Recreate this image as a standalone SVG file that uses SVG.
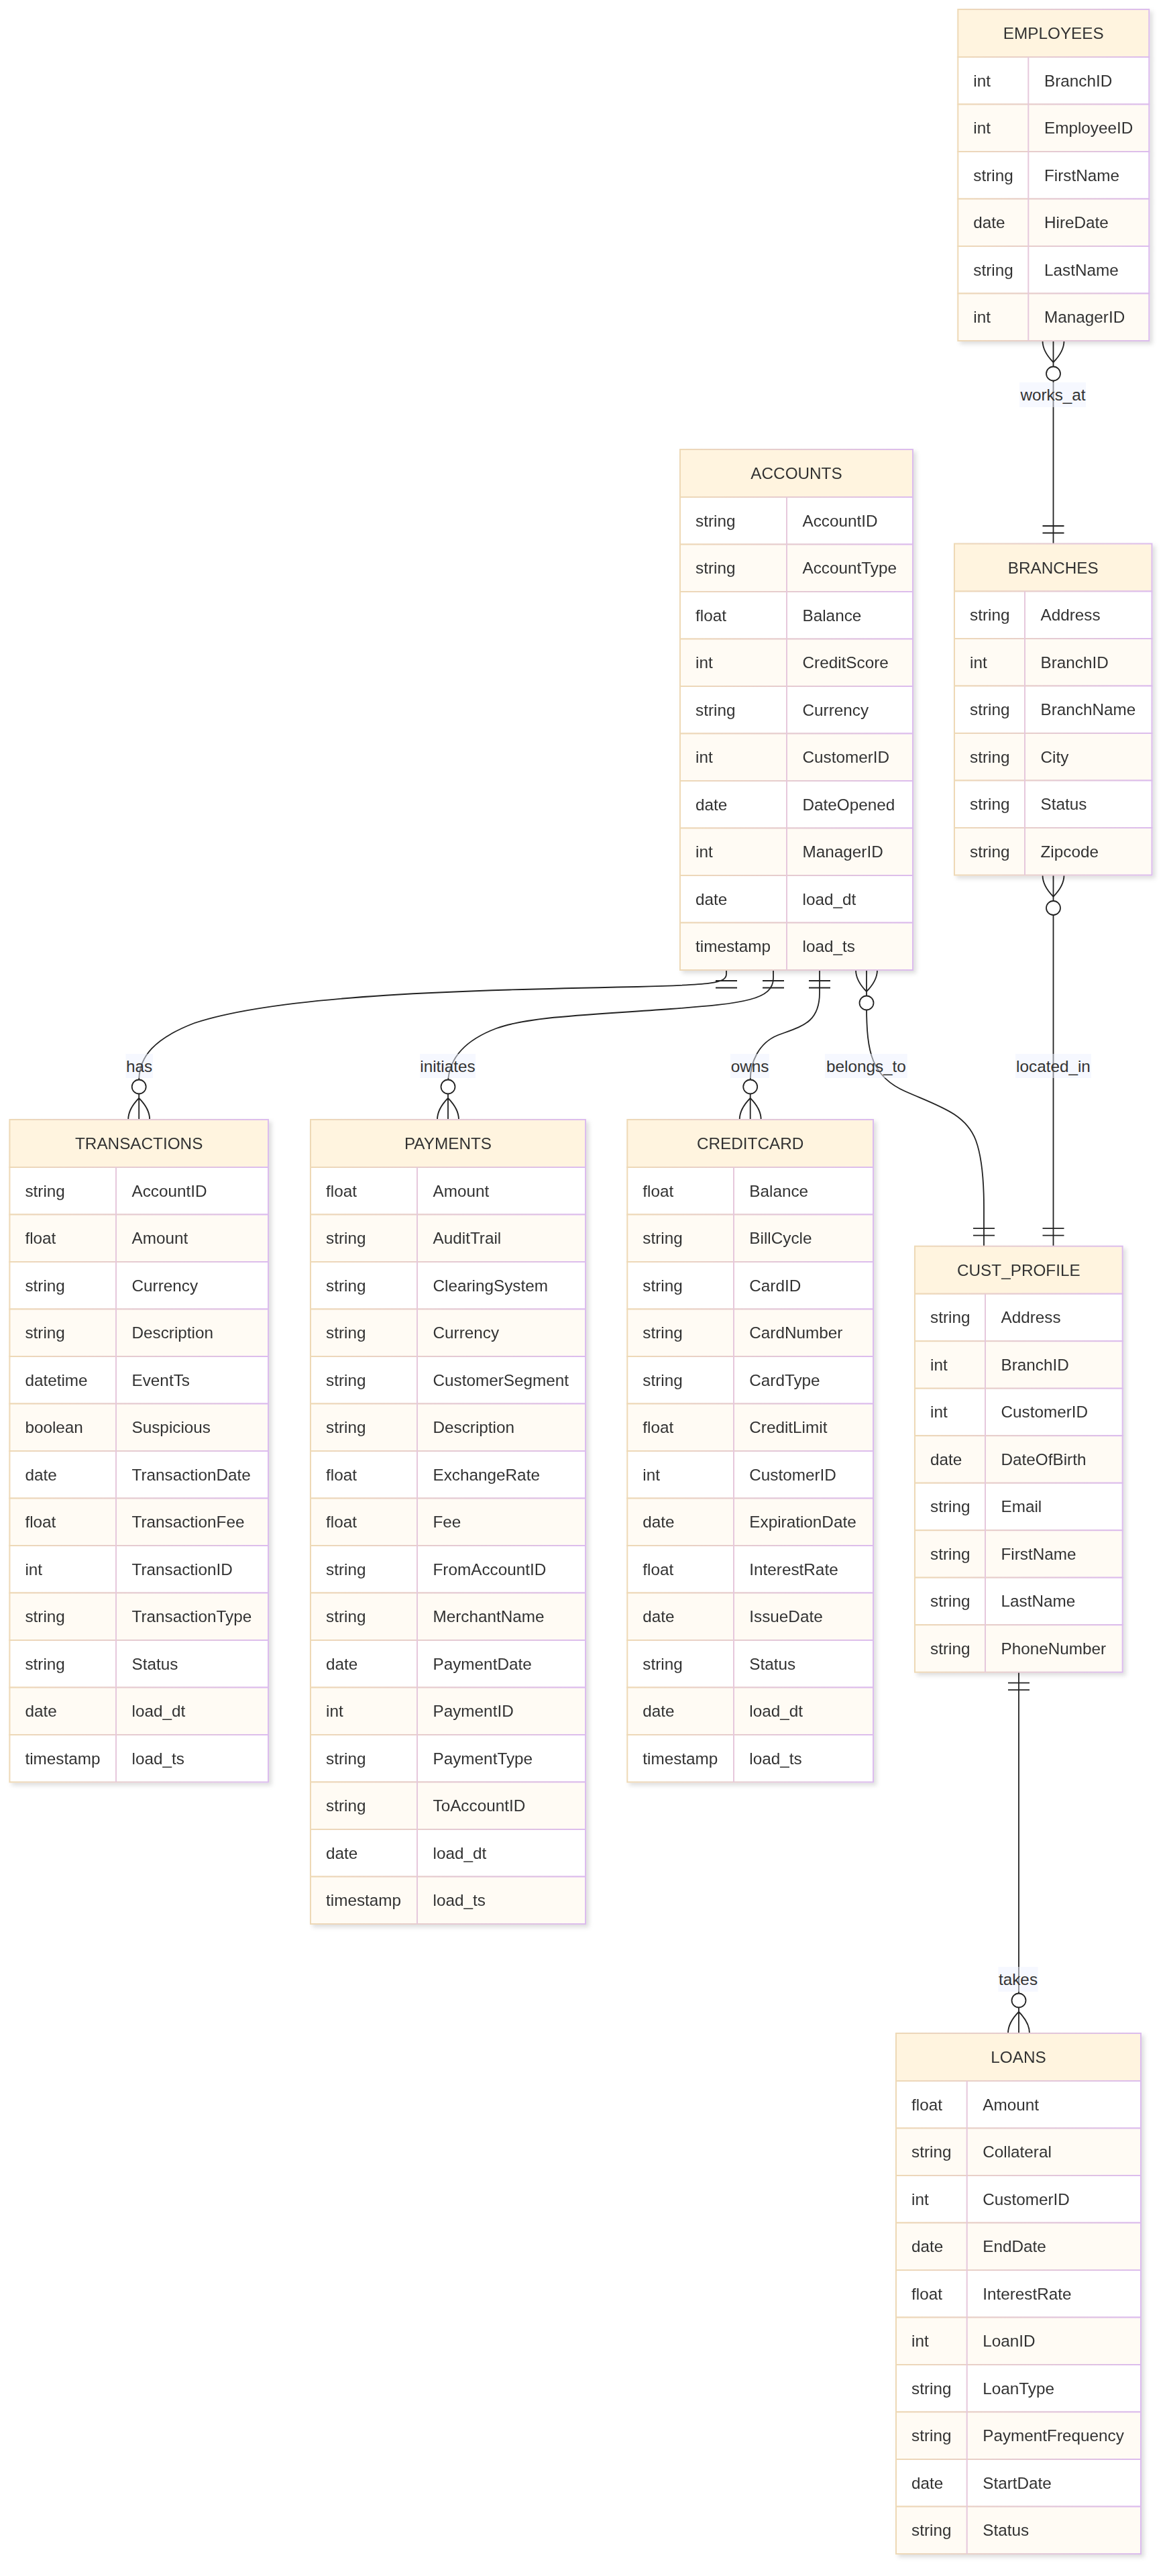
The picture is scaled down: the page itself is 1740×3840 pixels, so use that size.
<svg xmlns="http://www.w3.org/2000/svg" xmlns:xlink="http://www.w3.org/1999/xlink" width="1740" height="3840" viewBox="0 0 1740 3840">
<style>
.hdr{fill:#fff4df;stroke:url(#bd);stroke-width:2}
.r1{fill:#ffffff;stroke:url(#bd);stroke-width:2}
.r2{fill:#fffbf4;stroke:url(#bd);stroke-width:2}
.dv{stroke:#e6c8dc;stroke-width:2}
text{font-family:"Liberation Sans",Arial,Helvetica,sans-serif;font-size:24.3px;fill:#333}
.h{text-anchor:middle}
.e{fill:none;stroke:#222;stroke-width:1.8}
.mk{fill:none;stroke:#222;stroke-width:1.8}
.mc{fill:#fff;stroke:#222;stroke-width:1.8}
.lb{fill:#eef2ff;fill-opacity:0.5}
</style>
<defs>
<linearGradient id="bd" x1="0" y1="0" x2="1" y2="0">
<stop offset="0" stop-color="#eed9b6"/>
<stop offset="1" stop-color="#dcbcee"/>
</linearGradient>
<filter id="sh" x="-5%" y="-5%" width="115%" height="115%">
<feDropShadow dx="4" dy="4" stdDeviation="3" flood-color="#000" flood-opacity="0.13"/>
</filter>
<g id="one"><path class="mk" d="M-16,16 H16 M-16,26.5 H16"/></g>
<g id="many0"><path class="mk" d="M-16,0 Q-16,16 0,32 M16,0 Q16,16 0,32"/><circle class="mc" cx="0" cy="49" r="10.5"/></g>
</defs>
<rect x="0" y="0" width="1740" height="3840" fill="#ffffff"/>

<g id="connectors">
<path class="e" d="M1570.5,508 L1570.5,810.5"/>
<path class="e" d="M1570.5,1304.5 L1570.5,1857.7"/>
<path class="e" d="M1519,2492.7 L1519,3031"/>
<path class="e" d="M1083,1446 L1083,1452 C1083,1466 1060,1468 950,1471 C700,1476 420,1482 290,1525 C230,1548 208,1575 207.2,1609 L207.2,1669"/>
<path class="e" d="M1153,1446 L1153,1458 C1153,1490 1110,1496 1000,1504 C880,1513 790,1515 740,1533 C695,1550 670,1575 668,1612 L668,1669"/>
<path class="e" d="M1222,1446 L1222,1480 C1222,1525 1195,1530 1160,1543 C1130,1555 1119,1585 1118.7,1609 L1118.7,1669"/>
<path class="e" d="M1292,1446 L1292,1500 C1292,1570 1300,1605 1350,1627 C1400,1649 1440,1660 1455,1700 C1466,1730 1467,1770 1467,1800 L1467,1857.7"/>
<use href="#many0" transform="translate(1570.5,508)"/>
<use href="#one" transform="translate(1570.5,810.5) rotate(180)"/>
<use href="#many0" transform="translate(1570.5,1304.5)"/>
<use href="#one" transform="translate(1570.5,1857.7) rotate(180)"/>
<use href="#one" transform="translate(1519,2492.7)"/>
<use href="#many0" transform="translate(1519,3031) rotate(180)"/>
<use href="#one" transform="translate(1083,1446)"/>
<use href="#many0" transform="translate(207.2,1669) rotate(180)"/>
<use href="#one" transform="translate(1153,1446)"/>
<use href="#many0" transform="translate(668,1669) rotate(180)"/>
<use href="#one" transform="translate(1222,1446)"/>
<use href="#many0" transform="translate(1118.7,1669) rotate(180)"/>
<use href="#many0" transform="translate(1292,1446)"/>
<use href="#one" transform="translate(1467,1857.7) rotate(180)"/>
<rect class="lb" x="1520" y="570" width="99" height="37"/>
<text class="h" x="1570" y="597">works_at</text>
<rect class="lb" x="1514" y="1571" width="113" height="36"/>
<text class="h" x="1570.5" y="1597.5">located_in</text>
<rect class="lb" x="1488.5" y="2932" width="59" height="37"/>
<text class="h" x="1518" y="2958.5">takes</text>
<rect class="lb" x="187.5" y="1571" width="40.5" height="36"/>
<text class="h" x="207.7" y="1597.5">has</text>
<rect class="lb" x="626" y="1571" width="83" height="36"/>
<text class="h" x="667.5" y="1597.5">initiates</text>
<rect class="lb" x="1089" y="1571" width="58" height="36"/>
<text class="h" x="1118" y="1597.5">owns</text>
<rect class="lb" x="1230" y="1571" width="122.7" height="36"/>
<text class="h" x="1291.4" y="1597.5">belongs_to</text>
</g>

<g id="employees" filter="url(#sh)">
<rect class="hdr" x="1428.3" y="14" width="285" height="71"/>
<rect class="r1" x="1428.3" y="85" width="285" height="70.5"/>
<rect class="r2" x="1428.3" y="155.5" width="285" height="70.5"/>
<rect class="r1" x="1428.3" y="226" width="285" height="70.5"/>
<rect class="r2" x="1428.3" y="296.5" width="285" height="70.5"/>
<rect class="r1" x="1428.3" y="367" width="285" height="70.5"/>
<rect class="r2" x="1428.3" y="437.5" width="285" height="70.5"/>
<line class="dv" x1="1533.3" y1="85" x2="1533.3" y2="508"/>
<text class="h" x="1570.8" y="58">EMPLOYEES</text>
<text x="1451.3" y="128.5">int</text><text x="1557" y="128.5">BranchID</text>
<text x="1451.3" y="199">int</text><text x="1557" y="199">EmployeeID</text>
<text x="1451.3" y="269.5">string</text><text x="1557" y="269.5">FirstName</text>
<text x="1451.3" y="340">date</text><text x="1557" y="340">HireDate</text>
<text x="1451.3" y="410.5">string</text><text x="1557" y="410.5">LastName</text>
<text x="1451.3" y="481">int</text><text x="1557" y="481">ManagerID</text>
</g>

<g id="accounts" filter="url(#sh)">
<rect class="hdr" x="1014" y="670" width="347" height="71"/>
<rect class="r1" x="1014" y="741" width="347" height="70.5"/>
<rect class="r2" x="1014" y="811.5" width="347" height="70.5"/>
<rect class="r1" x="1014" y="882" width="347" height="70.5"/>
<rect class="r2" x="1014" y="952.5" width="347" height="70.5"/>
<rect class="r1" x="1014" y="1023" width="347" height="70.5"/>
<rect class="r2" x="1014" y="1093.5" width="347" height="70.5"/>
<rect class="r1" x="1014" y="1164" width="347" height="70.5"/>
<rect class="r2" x="1014" y="1234.5" width="347" height="70.5"/>
<rect class="r1" x="1014" y="1305" width="347" height="70.5"/>
<rect class="r2" x="1014" y="1375.5" width="347" height="70.5"/>
<line class="dv" x1="1173" y1="741" x2="1173" y2="1446"/>
<text class="h" x="1187.5" y="714">ACCOUNTS</text>
<text x="1037" y="784.5">string</text><text x="1196.5" y="784.5">AccountID</text>
<text x="1037" y="855">string</text><text x="1196.5" y="855">AccountType</text>
<text x="1037" y="925.5">float</text><text x="1196.5" y="925.5">Balance</text>
<text x="1037" y="996">int</text><text x="1196.5" y="996">CreditScore</text>
<text x="1037" y="1066.5">string</text><text x="1196.5" y="1066.5">Currency</text>
<text x="1037" y="1137">int</text><text x="1196.5" y="1137">CustomerID</text>
<text x="1037" y="1207.5">date</text><text x="1196.5" y="1207.5">DateOpened</text>
<text x="1037" y="1278">int</text><text x="1196.5" y="1278">ManagerID</text>
<text x="1037" y="1348.5">date</text><text x="1196.5" y="1348.5">load_dt</text>
<text x="1037" y="1419">timestamp</text><text x="1196.5" y="1419">load_ts</text>
</g>

<g id="branches" filter="url(#sh)">
<rect class="hdr" x="1423" y="810.5" width="294.5" height="71"/>
<rect class="r1" x="1423" y="881.5" width="294.5" height="70.5"/>
<rect class="r2" x="1423" y="952" width="294.5" height="70.5"/>
<rect class="r1" x="1423" y="1022.5" width="294.5" height="70.5"/>
<rect class="r2" x="1423" y="1093" width="294.5" height="70.5"/>
<rect class="r1" x="1423" y="1163.5" width="294.5" height="70.5"/>
<rect class="r2" x="1423" y="1234" width="294.5" height="70.5"/>
<line class="dv" x1="1528" y1="881.5" x2="1528" y2="1304.5"/>
<text class="h" x="1570.25" y="854.5">BRANCHES</text>
<text x="1446" y="925">string</text><text x="1551.5" y="925">Address</text>
<text x="1446" y="995.5">int</text><text x="1551.5" y="995.5">BranchID</text>
<text x="1446" y="1066">string</text><text x="1551.5" y="1066">BranchName</text>
<text x="1446" y="1136.5">string</text><text x="1551.5" y="1136.5">City</text>
<text x="1446" y="1207">string</text><text x="1551.5" y="1207">Status</text>
<text x="1446" y="1277.5">string</text><text x="1551.5" y="1277.5">Zipcode</text>
</g>

<g id="transactions" filter="url(#sh)">
<rect class="hdr" x="14.4" y="1669" width="385.6" height="71"/>
<rect class="r1" x="14.4" y="1740" width="385.6" height="70.5"/>
<rect class="r2" x="14.4" y="1810.5" width="385.6" height="70.5"/>
<rect class="r1" x="14.4" y="1881" width="385.6" height="70.5"/>
<rect class="r2" x="14.4" y="1951.5" width="385.6" height="70.5"/>
<rect class="r1" x="14.4" y="2022" width="385.6" height="70.5"/>
<rect class="r2" x="14.4" y="2092.5" width="385.6" height="70.5"/>
<rect class="r1" x="14.4" y="2163" width="385.6" height="70.5"/>
<rect class="r2" x="14.4" y="2233.5" width="385.6" height="70.5"/>
<rect class="r1" x="14.4" y="2304" width="385.6" height="70.5"/>
<rect class="r2" x="14.4" y="2374.5" width="385.6" height="70.5"/>
<rect class="r1" x="14.4" y="2445" width="385.6" height="70.5"/>
<rect class="r2" x="14.4" y="2515.5" width="385.6" height="70.5"/>
<rect class="r1" x="14.4" y="2586" width="385.6" height="70.5"/>
<line class="dv" x1="173" y1="1740" x2="173" y2="2656.5"/>
<text class="h" x="207.2" y="1713">TRANSACTIONS</text>
<text x="37.4" y="1783.5">string</text><text x="196.5" y="1783.5">AccountID</text>
<text x="37.4" y="1854">float</text><text x="196.5" y="1854">Amount</text>
<text x="37.4" y="1924.5">string</text><text x="196.5" y="1924.5">Currency</text>
<text x="37.4" y="1995">string</text><text x="196.5" y="1995">Description</text>
<text x="37.4" y="2065.5">datetime</text><text x="196.5" y="2065.5">EventTs</text>
<text x="37.4" y="2136">boolean</text><text x="196.5" y="2136">Suspicious</text>
<text x="37.4" y="2206.5">date</text><text x="196.5" y="2206.5">TransactionDate</text>
<text x="37.4" y="2277">float</text><text x="196.5" y="2277">TransactionFee</text>
<text x="37.4" y="2347.5">int</text><text x="196.5" y="2347.5">TransactionID</text>
<text x="37.4" y="2418">string</text><text x="196.5" y="2418">TransactionType</text>
<text x="37.4" y="2488.5">string</text><text x="196.5" y="2488.5">Status</text>
<text x="37.4" y="2559">date</text><text x="196.5" y="2559">load_dt</text>
<text x="37.4" y="2629.5">timestamp</text><text x="196.5" y="2629.5">load_ts</text>
</g>

<g id="payments" filter="url(#sh)">
<rect class="hdr" x="463" y="1669" width="410" height="71"/>
<rect class="r1" x="463" y="1740" width="410" height="70.5"/>
<rect class="r2" x="463" y="1810.5" width="410" height="70.5"/>
<rect class="r1" x="463" y="1881" width="410" height="70.5"/>
<rect class="r2" x="463" y="1951.5" width="410" height="70.5"/>
<rect class="r1" x="463" y="2022" width="410" height="70.5"/>
<rect class="r2" x="463" y="2092.5" width="410" height="70.5"/>
<rect class="r1" x="463" y="2163" width="410" height="70.5"/>
<rect class="r2" x="463" y="2233.5" width="410" height="70.5"/>
<rect class="r1" x="463" y="2304" width="410" height="70.5"/>
<rect class="r2" x="463" y="2374.5" width="410" height="70.5"/>
<rect class="r1" x="463" y="2445" width="410" height="70.5"/>
<rect class="r2" x="463" y="2515.5" width="410" height="70.5"/>
<rect class="r1" x="463" y="2586" width="410" height="70.5"/>
<rect class="r2" x="463" y="2656.5" width="410" height="70.5"/>
<rect class="r1" x="463" y="2727" width="410" height="70.5"/>
<rect class="r2" x="463" y="2797.5" width="410" height="70.5"/>
<line class="dv" x1="622" y1="1740" x2="622" y2="2868"/>
<text class="h" x="668" y="1713">PAYMENTS</text>
<text x="486" y="1783.5">float</text><text x="645.5" y="1783.5">Amount</text>
<text x="486" y="1854">string</text><text x="645.5" y="1854">AuditTrail</text>
<text x="486" y="1924.5">string</text><text x="645.5" y="1924.5">ClearingSystem</text>
<text x="486" y="1995">string</text><text x="645.5" y="1995">Currency</text>
<text x="486" y="2065.5">string</text><text x="645.5" y="2065.5">CustomerSegment</text>
<text x="486" y="2136">string</text><text x="645.5" y="2136">Description</text>
<text x="486" y="2206.5">float</text><text x="645.5" y="2206.5">ExchangeRate</text>
<text x="486" y="2277">float</text><text x="645.5" y="2277">Fee</text>
<text x="486" y="2347.5">string</text><text x="645.5" y="2347.5">FromAccountID</text>
<text x="486" y="2418">string</text><text x="645.5" y="2418">MerchantName</text>
<text x="486" y="2488.5">date</text><text x="645.5" y="2488.5">PaymentDate</text>
<text x="486" y="2559">int</text><text x="645.5" y="2559">PaymentID</text>
<text x="486" y="2629.5">string</text><text x="645.5" y="2629.5">PaymentType</text>
<text x="486" y="2700">string</text><text x="645.5" y="2700">ToAccountID</text>
<text x="486" y="2770.5">date</text><text x="645.5" y="2770.5">load_dt</text>
<text x="486" y="2841">timestamp</text><text x="645.5" y="2841">load_ts</text>
</g>

<g id="creditcard" filter="url(#sh)">
<rect class="hdr" x="935.3" y="1669" width="366.7" height="71"/>
<rect class="r1" x="935.3" y="1740" width="366.7" height="70.5"/>
<rect class="r2" x="935.3" y="1810.5" width="366.7" height="70.5"/>
<rect class="r1" x="935.3" y="1881" width="366.7" height="70.5"/>
<rect class="r2" x="935.3" y="1951.5" width="366.7" height="70.5"/>
<rect class="r1" x="935.3" y="2022" width="366.7" height="70.5"/>
<rect class="r2" x="935.3" y="2092.5" width="366.7" height="70.5"/>
<rect class="r1" x="935.3" y="2163" width="366.7" height="70.5"/>
<rect class="r2" x="935.3" y="2233.5" width="366.7" height="70.5"/>
<rect class="r1" x="935.3" y="2304" width="366.7" height="70.5"/>
<rect class="r2" x="935.3" y="2374.5" width="366.7" height="70.5"/>
<rect class="r1" x="935.3" y="2445" width="366.7" height="70.5"/>
<rect class="r2" x="935.3" y="2515.5" width="366.7" height="70.5"/>
<rect class="r1" x="935.3" y="2586" width="366.7" height="70.5"/>
<line class="dv" x1="1094" y1="1740" x2="1094" y2="2656.5"/>
<text class="h" x="1118.65" y="1713">CREDITCARD</text>
<text x="958.3" y="1783.5">float</text><text x="1117.3" y="1783.5">Balance</text>
<text x="958.3" y="1854">string</text><text x="1117.3" y="1854">BillCycle</text>
<text x="958.3" y="1924.5">string</text><text x="1117.3" y="1924.5">CardID</text>
<text x="958.3" y="1995">string</text><text x="1117.3" y="1995">CardNumber</text>
<text x="958.3" y="2065.5">string</text><text x="1117.3" y="2065.5">CardType</text>
<text x="958.3" y="2136">float</text><text x="1117.3" y="2136">CreditLimit</text>
<text x="958.3" y="2206.5">int</text><text x="1117.3" y="2206.5">CustomerID</text>
<text x="958.3" y="2277">date</text><text x="1117.3" y="2277">ExpirationDate</text>
<text x="958.3" y="2347.5">float</text><text x="1117.3" y="2347.5">InterestRate</text>
<text x="958.3" y="2418">date</text><text x="1117.3" y="2418">IssueDate</text>
<text x="958.3" y="2488.5">string</text><text x="1117.3" y="2488.5">Status</text>
<text x="958.3" y="2559">date</text><text x="1117.3" y="2559">load_dt</text>
<text x="958.3" y="2629.5">timestamp</text><text x="1117.3" y="2629.5">load_ts</text>
</g>

<g id="cust_profile" filter="url(#sh)">
<rect class="hdr" x="1364" y="1857.7" width="309.7" height="71"/>
<rect class="r1" x="1364" y="1928.7" width="309.7" height="70.5"/>
<rect class="r2" x="1364" y="1999.2" width="309.7" height="70.5"/>
<rect class="r1" x="1364" y="2069.7" width="309.7" height="70.5"/>
<rect class="r2" x="1364" y="2140.2" width="309.7" height="70.5"/>
<rect class="r1" x="1364" y="2210.7" width="309.7" height="70.5"/>
<rect class="r2" x="1364" y="2281.2" width="309.7" height="70.5"/>
<rect class="r1" x="1364" y="2351.7" width="309.7" height="70.5"/>
<rect class="r2" x="1364" y="2422.2" width="309.7" height="70.5"/>
<line class="dv" x1="1469" y1="1928.7" x2="1469" y2="2492.7"/>
<text class="h" x="1518.85" y="1901.7">CUST_PROFILE</text>
<text x="1387" y="1972.2">string</text><text x="1492.5" y="1972.2">Address</text>
<text x="1387" y="2042.7">int</text><text x="1492.5" y="2042.7">BranchID</text>
<text x="1387" y="2113.2">int</text><text x="1492.5" y="2113.2">CustomerID</text>
<text x="1387" y="2183.7">date</text><text x="1492.5" y="2183.7">DateOfBirth</text>
<text x="1387" y="2254.2">string</text><text x="1492.5" y="2254.2">Email</text>
<text x="1387" y="2324.7">string</text><text x="1492.5" y="2324.7">FirstName</text>
<text x="1387" y="2395.2">string</text><text x="1492.5" y="2395.2">LastName</text>
<text x="1387" y="2465.7">string</text><text x="1492.5" y="2465.7">PhoneNumber</text>
</g>

<g id="loans" filter="url(#sh)">
<rect class="hdr" x="1336" y="3031" width="365" height="71"/>
<rect class="r1" x="1336" y="3102" width="365" height="70.5"/>
<rect class="r2" x="1336" y="3172.5" width="365" height="70.5"/>
<rect class="r1" x="1336" y="3243" width="365" height="70.5"/>
<rect class="r2" x="1336" y="3313.5" width="365" height="70.5"/>
<rect class="r1" x="1336" y="3384" width="365" height="70.5"/>
<rect class="r2" x="1336" y="3454.5" width="365" height="70.5"/>
<rect class="r1" x="1336" y="3525" width="365" height="70.5"/>
<rect class="r2" x="1336" y="3595.5" width="365" height="70.5"/>
<rect class="r1" x="1336" y="3666" width="365" height="70.5"/>
<rect class="r2" x="1336" y="3736.5" width="365" height="70.5"/>
<line class="dv" x1="1441.7" y1="3102" x2="1441.7" y2="3807"/>
<text class="h" x="1518.5" y="3075">LOANS</text>
<text x="1359" y="3145.5">float</text><text x="1465.2" y="3145.5">Amount</text>
<text x="1359" y="3216">string</text><text x="1465.2" y="3216">Collateral</text>
<text x="1359" y="3286.5">int</text><text x="1465.2" y="3286.5">CustomerID</text>
<text x="1359" y="3357">date</text><text x="1465.2" y="3357">EndDate</text>
<text x="1359" y="3427.5">float</text><text x="1465.2" y="3427.5">InterestRate</text>
<text x="1359" y="3498">int</text><text x="1465.2" y="3498">LoanID</text>
<text x="1359" y="3568.5">string</text><text x="1465.2" y="3568.5">LoanType</text>
<text x="1359" y="3639">string</text><text x="1465.2" y="3639">PaymentFrequency</text>
<text x="1359" y="3709.5">date</text><text x="1465.2" y="3709.5">StartDate</text>
<text x="1359" y="3780">string</text><text x="1465.2" y="3780">Status</text>
</g>
</svg>
